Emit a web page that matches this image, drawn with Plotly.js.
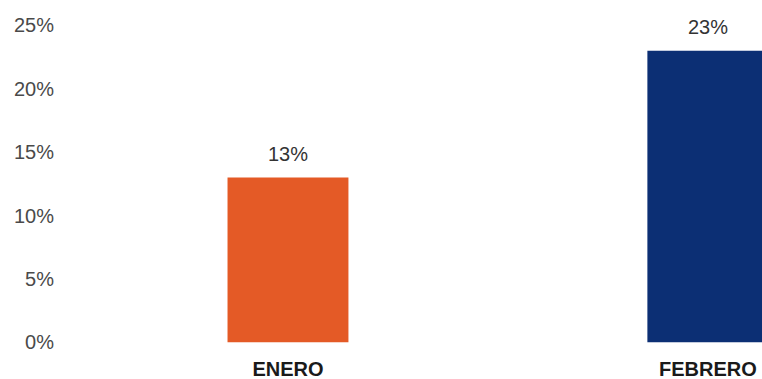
<!DOCTYPE html>
<html>
<head>
<meta charset="utf-8">
<script src="https://cdn.plot.ly/plotly-3.0.1.min.js"></script>
<style>html,body{margin:0;padding:0;background:#fff;}#chart{width:762px;height:379px;}</style>
</head>
<body>
<div id="chart"></div>
<script>
var categories = ['ENERO', 'FEBRERO'];
var values = [13, 23];
var barColors = ['#E45A26', '#0C2F74'];
var tickVals = [0, 5, 10, 15, 20, 25];
var tickText = ['0%', '5%', '10%', '15%', '20%', '25%'];

var trace = {
  type: 'bar',
  x: categories,
  y: values,
  width: 0.288,
  marker: {color: barColors},
  hoverinfo: 'none'
};

var annotations = categories.map(function(c, i){
  return {
    x: c, y: values[i], xref: 'x', yref: 'y',
    text: values[i] + '%', showarrow: false,
    yanchor: 'middle', yshift: 24,
    font: {family: 'Liberation Sans, Arial, sans-serif', size: 20, color: '#333'}
  };
});

var layout = {
  width: 762, height: 379,
  margin: {l: 60, r: 0, t: 0, b: 24},
  paper_bgcolor: '#fff', plot_bgcolor: '#fff',
  showlegend: false,
  xaxis: {
    type: 'category',
    range: [-0.543, 1.129],
    showgrid: false, zeroline: false, showline: false,
    ticks: '', automargin: false,
    tickfont: {family: 'Liberation Sans, Arial, sans-serif', size: 20, color: '#1a1a1a', weight: 'bold'}
  },
  yaxis: {
    range: [-1, 27],
    tickvals: tickVals, ticktext: tickText,
    showgrid: false, zeroline: false, showline: false,
    ticks: '', automargin: false, ticklabelstandoff: 5,
    tickfont: {family: 'Liberation Sans, Arial, sans-serif', size: 20, color: '#4a4a4a'}
  },
  annotations: annotations
};

Plotly.newPlot('chart', [trace], layout, {displayModeBar: false, staticPlot: true});
</script>
</body>
</html>
